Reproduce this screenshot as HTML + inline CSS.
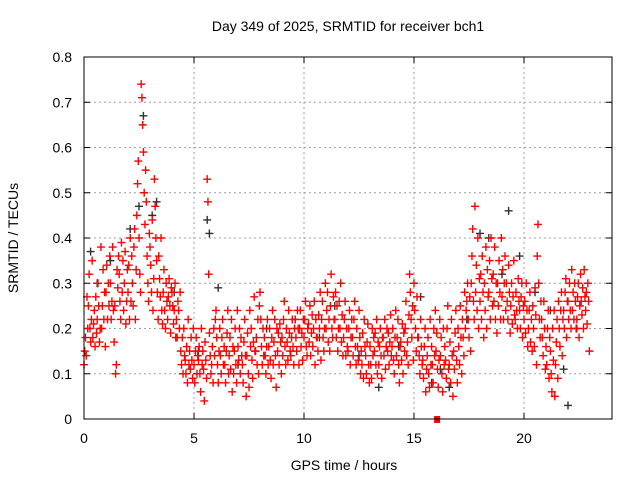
<!DOCTYPE html>
<html><head><meta charset="utf-8"><style>
html,body{margin:0;padding:0;background:#fff}
svg{display:block;font-family:"Liberation Sans",sans-serif}
</style></head><body>
<svg id="chart" width="640" height="480" viewBox="0 0 640 480">
<rect x="0" y="0" width="640" height="480" fill="#fff"/>
<text x="348" y="31" font-size="14" text-anchor="middle" fill="#000">Day 349 of 2025, SRMTID for receiver bch1</text>
<g id="grid"></g>
<g id="ticks"></g>
<g id="black-series"></g>
<g id="red-series"></g>
<rect x="84" y="57" width="528" height="362" fill="none" stroke="#000" stroke-width="1"/>
<text x="344" y="470" font-size="14" text-anchor="middle">GPS time / hours</text>
<text transform="translate(18,238) rotate(-90)" font-size="14" text-anchor="middle">SRMTID / TECUs</text>
</svg>
<script>
const xTicks=[0,5,10,15,20];
const yTicks=[0,0.1,0.2,0.3,0.4,0.5,0.6,0.7,0.8];
const yTickLabels=["0","0.1","0.2","0.3","0.4","0.5","0.6","0.7","0.8"];
const hours=[0,0.2,0.4,0.6,0.8,1,1.2,1.4,1.6,1.8,2,2.2,2.4,2.6,2.8,3,3.2,3.4,3.6,3.8,4,4.2,4.4,4.6,4.8,5,5.2,5.4,5.6,5.8,6,6.2,6.4,6.6,6.8,7,7.2,7.4,7.6,7.8,8,8.2,8.4,8.6,8.8,9,9.2,9.4,9.6,9.8,10,10.2,10.4,10.6,10.8,11,11.2,11.4,11.6,11.8,12,12.2,12.4,12.6,12.8,13,13.2,13.4,13.6,13.8,14,14.2,14.4,14.6,14.8,15,15.2,15.4,15.6,15.8,16,16.2,16.4,16.6,16.8,17,17.2,17.4,17.6,17.8,18,18.2,18.4,18.6,18.8,19,19.2,19.4,19.6,19.8,20,20.2,20.4,20.6,20.8,21,21.2,21.4,21.6,21.8,22,22.2,22.4,22.6,22.8];
const redValues=[
[0.12,0.15,0.18,0.14,0.27,0.2],[0.25,0.32,0.2,0.17,0.22,0.35],[0.18,0.21,0.24,0.16,0.27,0.19],[0.22,0.3,0.25,0.17,0.2,0.38],
[0.2,0.25,0.33,0.22,0.28,0.16],[0.28,0.34,0.22,0.3,0.25,0.36],[0.3,0.22,0.26,0.38,0.24,0.17],[0.25,0.1,0.12,0.33,0.29,0.36],
[0.32,0.26,0.22,0.39,0.28,0.35],[0.24,0.3,0.37,0.21,0.26,0.33],[0.28,0.34,0.22,0.4,0.26,0.36],[0.3,0.25,0.38,0.42,0.22,0.33],
[0.45,0.52,0.57,0.4,0.32,0.28],[0.74,0.71,0.65,0.59,0.5,0.43],[0.55,0.48,0.36,0.3,0.26,0.41],[0.38,0.34,0.28,0.44,0.24,0.31],
[0.53,0.47,0.4,0.35,0.28,0.22],[0.36,0.31,0.27,0.4,0.24,0.21],[0.28,0.33,0.24,0.2,0.3,0.26],[0.22,0.27,0.31,0.25,0.19,0.29],
[0.28,0.25,0.21,0.24,0.3,0.18],[0.22,0.18,0.26,0.24,0.2,0.28],[0.15,0.12,0.18,0.1,0.2,0.14],[0.13,0.1,0.16,0.08,0.22,0.12],
[0.15,0.11,0.18,0.13,0.09,0.2],[0.12,0.08,0.15,0.18,0.1,0.14],[0.13,0.16,0.1,0.06,0.2,0.12],[0.15,0.11,0.04,0.17,0.13,0.09],
[0.53,0.48,0.32,0.19,0.14,0.1],[0.12,0.16,0.08,0.2,0.14,0.22],[0.24,0.18,0.12,0.08,0.15,0.2],[0.14,0.1,0.18,0.22,0.12,0.16],
[0.12,0.08,0.15,0.19,0.24,0.1],[0.14,0.18,0.11,0.22,0.06,0.16],[0.1,0.15,0.2,0.12,0.08,0.24],[0.16,0.13,0.2,0.1,0.18,0.14],
[0.12,0.08,0.17,0.22,0.14,0.05],[0.14,0.19,0.1,0.07,0.24,0.16],[0.2,0.13,0.09,0.17,0.27,0.15],[0.15,0.18,0.12,0.22,0.1,0.25],
[0.28,0.22,0.16,0.12,0.2,0.14],[0.18,0.14,0.1,0.16,0.22,0.12],[0.16,0.2,0.13,0.09,0.18,0.24],[0.12,0.17,0.22,0.14,0.07,0.2],
[0.15,0.19,0.12,0.21,0.17,0.1],[0.18,0.14,0.22,0.26,0.16,0.12],[0.2,0.17,0.13,0.24,0.19,0.15],[0.14,0.18,0.22,0.16,0.12,0.2],
[0.22,0.18,0.15,0.24,0.2,0.12],[0.2,0.24,0.16,0.19,0.13,0.22],[0.18,0.22,0.26,0.16,0.14,0.2],[0.21,0.17,0.25,0.14,0.19,0.23],
[0.16,0.2,0.26,0.12,0.22,0.18],[0.18,0.15,0.23,0.2,0.28,0.13],[0.22,0.26,0.18,0.15,0.2,0.3],[0.2,0.24,0.28,0.17,0.22,0.15],
[0.25,0.32,0.2,0.18,0.27,0.22],[0.22,0.28,0.18,0.25,0.15,0.2],[0.26,0.2,0.3,0.17,0.23,0.14],[0.18,0.22,0.26,0.14,0.2,0.16],
[0.15,0.2,0.24,0.12,0.18,0.22],[0.18,0.14,0.22,0.26,0.16,0.12],[0.2,0.16,0.13,0.24,0.18,0.1],[0.15,0.12,0.19,0.09,0.22,0.16],
[0.14,0.1,0.17,0.21,0.12,0.08],[0.16,0.12,0.09,0.2,0.14,0.18],[0.15,0.19,0.12,0.22,0.1,0.17],[0.12,0.16,0.2,0.14,0.09,0.18],
[0.18,0.14,0.22,0.11,0.16,0.2],[0.15,0.19,0.12,0.17,0.23,0.14],[0.16,0.2,0.13,0.1,0.18,0.24],[0.14,0.18,0.22,0.12,0.08,0.16],
[0.17,0.13,0.21,0.1,0.19,0.15],[0.2,0.26,0.14,0.17,0.12,0.23],[0.32,0.28,0.22,0.18,0.25,0.13],[0.3,0.24,0.2,0.15,0.27,0.18],
[0.18,0.14,0.1,0.22,0.16,0.12],[0.13,0.09,0.16,0.2,0.06,0.11],[0.14,0.18,0.1,0.07,0.22,0.12],[0.16,0.12,0.08,0.2,0.14,0.24],
[0.15,0.19,0.11,0.07,0.13,0.22],[0.14,0.18,0.1,0.06,0.2,0.12],[0.16,0.13,0.09,0.2,0.25,0.11],[0.12,0.17,0.08,0.22,0.14,0.05],
[0.15,0.11,0.19,0.24,0.13,0.08],[0.2,0.16,0.12,0.25,0.18,0.1],[0.22,0.18,0.14,0.28,0.2,0.24],[0.26,0.3,0.22,0.18,0.27,0.15],
[0.3,0.36,0.42,0.26,0.22,0.47],[0.28,0.34,0.24,0.4,0.2,0.31],[0.26,0.32,0.22,0.36,0.28,0.18],[0.3,0.24,0.38,0.2,0.33,0.27],
[0.28,0.35,0.22,0.4,0.31,0.25],[0.32,0.26,0.38,0.22,0.3,0.19],[0.3,0.25,0.35,0.28,0.22,0.4],[0.27,0.33,0.22,0.3,0.36,0.24],
[0.3,0.26,0.22,0.34,0.28,0.19],[0.25,0.3,0.21,0.27,0.35,0.23],[0.22,0.28,0.24,0.2,0.31,0.26],[0.24,0.2,0.27,0.3,0.18,0.25],
[0.22,0.26,0.19,0.3,0.24,0.16],[0.2,0.24,0.28,0.17,0.22,0.15],[0.25,0.2,0.16,0.29,0.23,0.12],[0.36,0.43,0.3,0.22,0.18,0.26],
[0.22,0.18,0.14,0.26,0.2,0.11],[0.16,0.12,0.2,0.24,0.09,0.18],[0.15,0.1,0.06,0.2,0.13,0.24],[0.05,0.12,0.17,0.22,0.09,0.26],
[0.2,0.16,0.24,0.28,0.14,0.22],[0.24,0.2,0.28,0.31,0.18,0.26],[0.26,0.22,0.3,0.24,0.2,0.33],[0.24,0.28,0.22,0.3,0.26,0.2],
[0.22,0.27,0.3,0.18,0.25,0.32],[0.26,0.23,0.29,0.2,0.33,0.27],[0.24,0.28,0.21,0.3,0.26,0.15]];
const blackHours=[0.3,0.6,1.2,2.1,2.5,2.7,3.1,3.3,4.1,5.2,5.6,5.7,6.1,7.0,8.3,9.6,10.7,11.4,12.5,13.4,14.3,15.3,15.8,16.2,16.6,17.4,18.0,18.4,19.0,19.3,19.8,20.5,21.2,21.8,22.0,22.4];
const blackValues=[0.37,0.3,0.35,0.42,0.47,0.67,0.45,0.48,0.28,0.15,0.44,0.41,0.29,0.12,0.2,0.22,0.18,0.25,0.14,0.07,0.16,0.27,0.08,0.11,0.07,0.22,0.41,0.4,0.32,0.46,0.36,0.28,0.24,0.11,0.03,0.2];
const outlierHour=[16.05];
const outlierValue=[0];

const X0=84,X1=612,Y0=419,Y1=57;
const xScale=h=>X0+(h/24)*(X1-X0);
const yScale=v=>Y0-(v/0.8)*(Y0-Y1);
const NS="http://www.w3.org/2000/svg";
const grid=document.getElementById('grid'),ticks=document.getElementById('ticks');
function mk(tag,attrs,parent){const e=document.createElementNS(NS,tag);for(const k in attrs)e.setAttribute(k,attrs[k]);parent.appendChild(e);return e;}
xTicks.forEach((t,i)=>{
  const x=xScale(t);
  if(t>0){const g=mk('line',{x1:x,x2:x,y1:Y1,y2:Y0,stroke:'#a0a0a0','stroke-dasharray':'2,3'},grid);
  
  }
  const tk=mk('path',{d:`M${x},${Y0}v-6M${x},${Y1}v6`,stroke:'#000'},ticks);
  
  
  const l=mk('text',{x:x,y:Y0+24,'font-size':14,'text-anchor':'middle'},ticks);l.textContent=String(t);
  
  
});
yTicks.forEach((t,i)=>{
  const y=yScale(t);
  if(t>0&&t<0.8){const g=mk('line',{x1:X0,x2:X1,y1:y,y2:y,stroke:'#a0a0a0','stroke-dasharray':'2,3'},grid);
  
  }
  const tk=mk('path',{d:`M${X0},${y}h6M${X1},${y}h-6`,stroke:'#000'},ticks);
  
  
  const l=mk('text',{x:X0-12,y:y+5,'font-size':14,'text-anchor':'end'},ticks);l.textContent=yTickLabels[i];
  
  
});
function plus(x,y,col,parent){return mk('path',{d:`M${x-4},${y}h8M${x},${y-4}v8`,stroke:col,'stroke-width':1.4},parent);}
const bg=document.getElementById('black-series');
blackHours.forEach((h,i)=>{const p=plus(xScale(h),yScale(blackValues[i]),'#303030',bg);
  
  });
const rg=document.getElementById('red-series');
const n=Math.min(hours.length,redValues.length);
for(let i=0;i<n;i++){redValues[i].forEach((v,j)=>{
  const p=plus(xScale(hours[i]+j*0.034),yScale(v),'#ff0000',rg);
  
  
});}
outlierHour.forEach((h,i)=>{const r=mk('rect',{x:xScale(h)-3,y:yScale(outlierValue[i])-3,width:6,height:7,fill:'#ff0000'},rg);
  
  });
</script>
</body></html>
